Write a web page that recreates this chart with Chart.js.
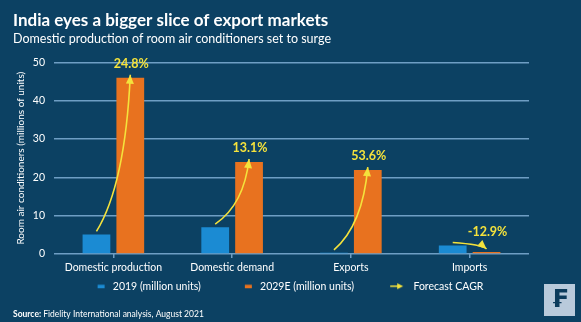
<!DOCTYPE html>
<html>
<head>
<meta charset="utf-8">
<script src="https://cdn.jsdelivr.net/npm/chart.js@4.4.1/dist/chart.umd.min.js"></script>
<style>
  html, body { margin: 0; padding: 0; background: #0c4163; }
  #wrap { width: 581px; height: 322px; }
</style>
</head>
<body>
<div id="wrap"><canvas id="acChart" width="581" height="322"></canvas></div>
<script>
"use strict";

// DATA -----------------------
const categories = ["Domestic production", "Domestic demand", "Exports", "Imports"];
const units2019 = [5.1, 7.0, 0.3, 2.2];
const units2029 = [46.0, 24.0, 21.9, 0.55];
const cagrLabels = ["24.8%", "13.1%", "53.6%", "-12.9%"];
const yTicks = [0, 10, 20, 30, 40, 50];

// STYLE -----------------------
const FONT = "Lato, 'Open Sans', sans-serif";
const BG = "#0c4163";
const BLUE = "#1b8bd3";
const ORANGE = "#e8721f";
const YELLOW = "#f4e23c";
const GRID = "#6e9ec4";
const MARKER_W = 49;

// legend markers: wide canvas, marker drawn at its right end so the gap before each item is blank
function legendMarker(kind, color) {
  const c = document.createElement("canvas");
  c.width = MARKER_W;
  c.height = 8;
  const g = c.getContext("2d");
  g.fillStyle = color;
  g.strokeStyle = color;
  if (kind === "rect") {
    g.fillRect(MARKER_W - 10, 2.5, 7, 3.5);
  } else {
    const x0 = MARKER_W - 18;
    g.lineWidth = 1.5;
    g.beginPath();
    g.moveTo(x0, 4);
    g.lineTo(x0 + 8, 4);
    g.stroke();
    g.beginPath();
    g.moveTo(x0 + 13, 4);
    g.lineTo(x0 + 7, 1);
    g.lineTo(x0 + 7, 7);
    g.closePath();
    g.fill();
  }
  return c;
}

// background fill
const backgroundPlugin = {
  id: "background",
  beforeDraw(chart) {
    const ctx = chart.ctx;
    ctx.save();
    ctx.fillStyle = BG;
    ctx.fillRect(0, 0, chart.width, chart.height);
    ctx.restore();
  }
};

// curved CAGR arrows from the 2019 bar to the 2029E bar
const cagrPlugin = {
  id: "cagrArrows",
  afterDatasetsDraw(chart) {
    const ctx = chart.ctx;
    const from = chart.getDatasetMeta(0).data;
    const to = chart.getDatasetMeta(1).data;
    ctx.save();
    categories.forEach((cat, i) => {
      const sx = from[i].x, sy = from[i].y - 3;
      const ex = to[i].x, ey = to[i].y - 3;
      const cx = sx + (ex - sx) * 0.85;
      const cy = sy - (sy - ey) * 0.3;

      ctx.strokeStyle = YELLOW;
      ctx.fillStyle = YELLOW;
      ctx.lineWidth = 1.6;
      ctx.beginPath();
      ctx.moveTo(sx, sy);
      ctx.quadraticCurveTo(cx, cy, ex, ey);
      ctx.stroke();

      // arrow head along the end tangent
      const ang = Math.atan2(ey - cy, ex - cx);
      const len = 9, half = 4;
      ctx.beginPath();
      ctx.moveTo(ex, ey);
      ctx.lineTo(ex - len * Math.cos(ang) + half * Math.sin(ang), ey - len * Math.sin(ang) - half * Math.cos(ang));
      ctx.lineTo(ex - len * Math.cos(ang) - half * Math.sin(ang), ey - len * Math.sin(ang) + half * Math.cos(ang));
      ctx.closePath();
      ctx.fill();

      ctx.font = "bold 12.5px " + FONT;
      ctx.textAlign = "center";
      ctx.textBaseline = "middle";
      ctx.fillText(cagrLabels[i], ex + 1, Math.min(sy, ey) - 11);
    });
    ctx.restore();
  }
};

// source line and logo box
const footerPlugin = {
  id: "footer",
  afterDraw(chart) {
    const ctx = chart.ctx;
    ctx.save();
    ctx.fillStyle = "#ffffff";
    ctx.textBaseline = "middle";
    ctx.textAlign = "left";
    ctx.font = "bold 8.5px " + FONT;
    ctx.fillText("Source:", 13, 314);
    const w = ctx.measureText("Source: ").width;
    ctx.font = "8.5px " + FONT;
    ctx.fillText("Fidelity International analysis, August 2021", 13 + w, 314);

    ctx.fillStyle = "#b9cadb";
    ctx.fillRect(544, 284, 31, 32);
    ctx.fillStyle = "#0c3b5b";
    ctx.font = "bold 24px 'DejaVu Sans'";
    ctx.textAlign = "center";
    ctx.fillText("₣", 559.5, 301);
    ctx.restore();
  }
};

const acChart = new Chart(document.getElementById("acChart").getContext("2d"), {
  type: "bar",
  data: {
    labels: categories,
    datasets: [
      { label: "2019 (million units)", data: units2019, backgroundColor: BLUE },
      { label: "2029E (million units)", data: units2029, backgroundColor: ORANGE }
    ]
  },
  options: {
    responsive: false,
    devicePixelRatio: 1,
    animation: false,
    layout: { padding: { left: 13, right: 52, top: 0, bottom: 20.5 } },
    datasets: {
      bar: { categoryPercentage: 0.57, barPercentage: 0.82 }
    },
    plugins: {
      title: {
        display: true,
        text: "India eyes a bigger slice of export markets",
        align: "start",
        color: "#ffffff",
        font: { family: FONT, size: 17, weight: "bold" },
        padding: { top: 10, bottom: 1 }
      },
      subtitle: {
        display: true,
        text: "Domestic production of room air conditioners set to surge",
        align: "start",
        color: "#ffffff",
        font: { family: FONT, size: 12.5 },
        padding: { top: 0, bottom: 16 }
      },
      legend: {
        position: "bottom",
        labels: {
          color: "#ffffff",
          font: { family: FONT, size: 10.5 },
          usePointStyle: true,
          pointStyleWidth: MARKER_W,
          padding: 5,
          generateLabels() {
            return [
              { text: "2019 (million units)", pointStyle: legendMarker("rect", BLUE), fontColor: "#ffffff", lineWidth: 0 },
              { text: "2029E (million units)", pointStyle: legendMarker("rect", ORANGE), fontColor: "#ffffff", lineWidth: 0 },
              { text: "Forecast CAGR", pointStyle: legendMarker("arrow", YELLOW), fontColor: "#ffffff", lineWidth: 0 }
            ];
          }
        }
      },
      tooltip: { enabled: false }
    },
    scales: {
      x: {
        afterFit(axis) {
          axis.height = 22;
        },
        grid: { display: true, drawOnChartArea: false, offset: false, color: GRID, tickLength: 4, lineWidth: 1.5 },
        border: { display: false },
        ticks: { color: "#ffffff", font: { family: FONT, size: 10.5 }, padding: 3 }
      },
      y: {
        min: 0,
        max: 50,
        afterBuildTicks(axis) {
          axis.ticks = yTicks.map(v => ({ value: v }));
        },
        afterFit(axis) {
          axis.width = 41;
        },
        grid: { color: GRID, lineWidth: 1.5, drawTicks: false },
        border: { display: false },
        ticks: { color: "#ffffff", font: { family: FONT, size: 10.5 }, padding: 9 },
        title: {
          display: true,
          text: "Room air conditioners (millions of units)",
          color: "#ffffff",
          font: { family: FONT, size: 10 },
          padding: { top: 2, bottom: 0 }
        }
      }
    }
  },
  plugins: [backgroundPlugin, cagrPlugin, footerPlugin]
});
</script>
</body>
</html>
